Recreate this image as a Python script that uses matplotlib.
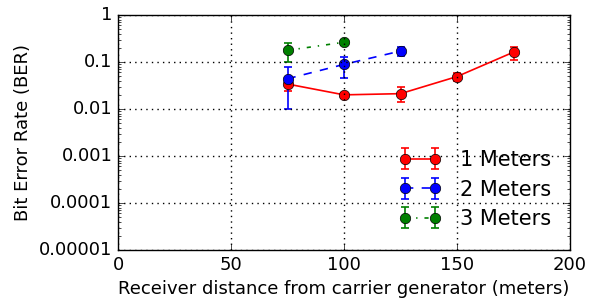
import matplotlib
matplotlib.use("Agg")
import matplotlib.pyplot as plt
import numpy as np

plt.style.use('classic')

x1 = [75, 100, 125, 150, 175]
y1 = [0.034, 0.020, 0.0212, 0.049, 0.162]
lo1 = [0.0245, 0.0175, 0.0139, 0.0394, 0.110]
hi1 = [0.045, 0.0222, 0.0289, 0.0575, 0.2118]

x2 = [75, 100, 125]
y2 = [0.044, 0.089, 0.171]
lo2 = [0.0102, 0.0457, 0.134]
hi2 = [0.079, 0.13, 0.2118]

x3 = [75, 100]
y3 = [0.177, 0.263]
lo3 = [0.0986, 0.235]
hi3 = [0.254, 0.29]

labels = ["1 Meters", "2 Meters", "3 Meters"]

fig = plt.figure(figsize=(5.94, 3.01), dpi=100, facecolor='white')
ax = fig.add_axes([118/594, 1-250/301, (570-118)/594, (250-15)/301])

def err(y, lo, hi):
    y = np.array(y); return [y - np.array(lo), np.array(hi) - y]

series = [(x1, y1, lo1, hi1, 'red', '-'),
          (x2, y2, lo2, hi2, 'blue', '--'),
          (x3, y3, lo3, hi3, 'green', '-.')]
for (x, y, lo, hi, c, ls), lab in zip(series, labels):
    ax.errorbar(x, y, yerr=err(y, lo, hi), color=c, ecolor=c, linestyle=ls,
                marker='o', markersize=7.5, markeredgecolor='black', markerfacecolor=c,
                capsize=3, elinewidth=1.2, capthick=1.2, linewidth=1.2, label=lab)

ax.set_yscale('log')
ax.set_ylim(1e-5, 1)
ax.set_xlim(0, 200)
ax.set_yticks([1e-5, 1e-4, 1e-3, 1e-2, 1e-1, 1])
ax.set_yticklabels(['0.00001', '0.0001', '0.001', '0.01', '0.1', '1'])
ax.set_xticks([0, 50, 100, 150, 200])
ax.tick_params(labelsize=13)
ax.grid(True, color='black', linestyle=':', linewidth=1)
ax.set_xlabel('Receiver distance from carrier generator (meters)', fontsize=13)
ax.set_ylabel('Bit Error Rate (BER)', fontsize=13)
ax.legend(loc='lower right', numpoints=2, frameon=False, fontsize=15,
          bbox_to_anchor=(1.0, 0.01), handlelength=2.05, handletextpad=0.9,
          labelspacing=0.45)

fig.savefig('out.png', dpi=100, facecolor='white')
